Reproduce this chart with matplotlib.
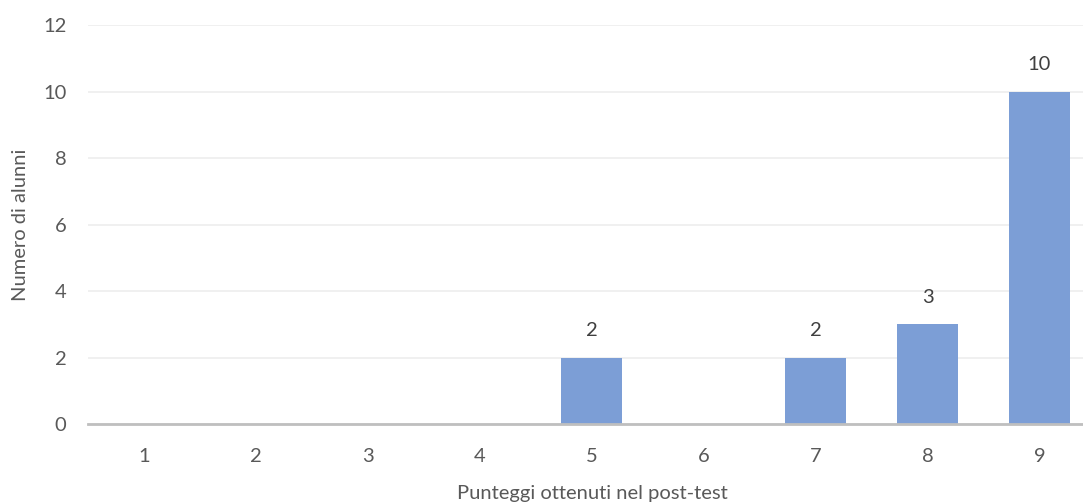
import numpy as np
import matplotlib.pyplot as plt

plt.rcParams['font.family'] = ['Lato', 'DejaVu Sans']

punteggi = ['1', '2', '3', '4', '5', '6', '7', '8', '9']
alunni = [0, 0, 0, 0, 2, 0, 2, 3, 10]

fig = plt.figure(figsize=(10.83, 5.03), dpi=100)
ax = fig.add_axes([0.0817, 0.157, 0.9297, 0.793])

x = np.arange(len(punteggi))
bars = ax.bar(x, alunni, width=0.546, color='#7C9ED6', zorder=3)

# etichette solo sulle barre non nulle
for xi, v in zip(x, alunni):
    if v > 0:
        ax.text(xi, v + 0.82, str(v), ha='center', va='center',
                fontsize=14.5, color='#404040')

ax.set_xlim(-0.5, len(punteggi) - 0.5)
ax.set_ylim(0, 12)
ax.set_yticks(range(0, 13, 2))
ax.set_xticks(x)
ax.set_xticklabels(punteggi)
ax.tick_params(axis='both', length=0, labelsize=14.5, labelcolor='#595959')
ax.tick_params(axis='x', pad=17)
ax.tick_params(axis='y', pad=16)

ax.grid(axis='y', color='#EDEDED', linewidth=1.2, zorder=0)
for s in ['top', 'right', 'left']:
    ax.spines[s].set_visible(False)
ax.spines['bottom'].set_color('#BFBFBF')
ax.spines['bottom'].set_linewidth(2)
ax.spines['bottom'].set_zorder(4)

ax.set_xlabel('Punteggi ottenuti nel post-test', fontsize=14.5, color='#595959', labelpad=15)
ax.set_ylabel('Numero di alunni', fontsize=14.5, color='#595959', labelpad=10)

fig.savefig('out.png', dpi=100)
